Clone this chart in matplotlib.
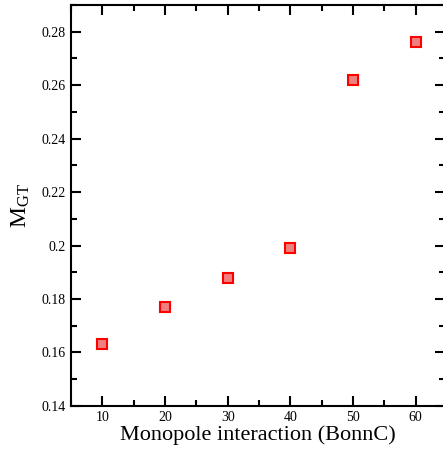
import matplotlib
matplotlib.use('Agg')
import matplotlib.pyplot as plt
from matplotlib.ticker import MultipleLocator

# monopole interaction strength vs. GT matrix element
monopole = [10, 20, 30, 40, 50, 60]
m_gt = [0.163, 0.177, 0.188, 0.199, 0.262, 0.276]

plt.rcParams['font.family'] = ['Liberation Serif', 'DejaVu Serif']
plt.rcParams['mathtext.fontset'] = 'custom'
plt.rcParams['mathtext.rm'] = 'Liberation Serif'
plt.rcParams['mathtext.it'] = 'Liberation Serif'

fig = plt.figure(figsize=(4.43, 4.51), dpi=100)
# right spine sits just past the image edge, as in the original
ax = fig.add_axes([0.160, 0.100, 0.845, 0.889])

ax.plot(monopole, m_gt, linestyle='none', marker='s', markersize=7,
        markerfacecolor='#f08080', markeredgecolor='red', markeredgewidth=1.5)

ax.set_xlim(5, 64.7)
ax.set_ylim(0.14, 0.29)
ax.xaxis.set_major_locator(MultipleLocator(10))
ax.xaxis.set_minor_locator(MultipleLocator(5))
ax.yaxis.set_minor_locator(MultipleLocator(0.01))
ax.set_yticks([0.14, 0.16, 0.18, 0.2, 0.22, 0.24, 0.26, 0.28])
ax.set_yticklabels(['0.14', '0.16', '0.18', '0.2', '0.22', '0.24', '0.26', '0.28'])

ax.tick_params(which='both', direction='in', top=True, right=True, width=1.5, labelsize=10)
ax.tick_params(which='major', length=7)
ax.tick_params(which='minor', length=4)
for s in ax.spines.values():
    s.set_linewidth(1.5)

ax.set_xlabel('Monopole interaction (BonnC)', fontsize=16, labelpad=1)
ax.set_ylabel('M$_{\\mathrm{GT}}$', fontsize=17, labelpad=7)

fig.savefig('out.png', dpi=100)
plt.close()
